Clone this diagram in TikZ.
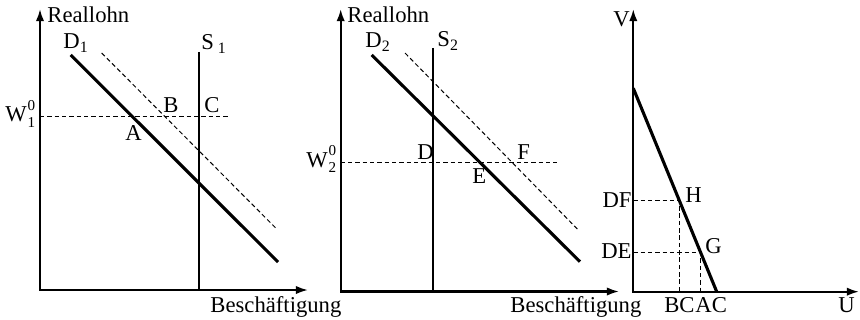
\documentclass[tikz,border=0pt]{standalone}
\usepackage{fontspec}
\setmainfont{Liberation Serif}
\usetikzlibrary{arrows.meta,calc}
\newcommand{\wlabel}[1]{W\kern0.3pt\raisebox{-2.6pt}{\fontsize{6.8}{7}\selectfont\shortstack[l]{0\\#1}}}
\begin{document}
\begin{tikzpicture}[x=0.45pt,y=-0.45pt,
  axis/.style={line width=0.95pt,{Latex[length=5.5pt,width=3.8pt]}-{Latex[length=5.5pt,width=3.8pt]}},
  curve/.style={line width=1.4pt},
  vline/.style={line width=1pt},
  guide/.style={line width=0.45pt,dash pattern=on 2pt off 1.3pt},
  lab/.style={inner sep=0pt,font=\fontsize{10.2}{12}\selectfont}]
\useasboundingbox (0,0) rectangle (860,320);

% ---------- panel 1 ----------
\coordinate (y1) at (40,9);
\coordinate (o1) at (40,290);
\coordinate (x1) at (308,290);
\draw[axis] (y1) -- (o1) -- (x1);
\coordinate (d1a) at (70.7,55);   \coordinate (d1b) at (278,262);
\coordinate (e1a) at (101.7,53);  \coordinate (e1b) at (276.7,229);
\coordinate (s1a) at (199.3,52);  \coordinate (s1b) at (199.3,290);
\coordinate (w1a) at (40,116.7);  \coordinate (w1b) at (228,116.7);
\draw[guide] (w1a) -- (w1b);
\draw[guide] (e1a) -- (e1b);
\draw[curve] (d1a) -- (d1b);
\draw[vline] (s1a) -- (s1b);
\node[lab,anchor=base west] (rl1) at (47,23) {Reallohn};
\node[lab,anchor=base west] (ld1) at (63,49) {D\textsubscript{1}};
\node[lab,anchor=base west] (ls1) at (201,50) {S\,\textsubscript{1}};
\node[lab,anchor=base west] (lw1) at (5,122) {\wlabel{1}};
\node[lab,anchor=base west] (lB) at (163,113) {B};
\node[lab,anchor=base west] (lC) at (204,113) {C};
\node[lab,anchor=base west] (lA) at (125,140) {A};
\node[lab,anchor=base west] (bs1) at (210,312) {Beschäftigung};

% ---------- panel 2 ----------
\coordinate (y2) at (340.7,9);
\coordinate (o2) at (340.7,291.5);
\coordinate (x2) at (619,291.5);
\draw[axis] (y2) -- (o2) -- (x2);
\coordinate (d2a) at (371.7,55);  \coordinate (d2b) at (580,261.7);
\coordinate (e2a) at (405,53);    \coordinate (e2b) at (577.3,229);
\coordinate (s2a) at (433.3,48);  \coordinate (s2b) at (433.3,291.5);
\coordinate (w2a) at (340.7,162.7); \coordinate (w2b) at (556.7,162.7);
\draw[guide] (w2a) -- (w2b);
\draw[guide] (e2a) -- (e2b);
\draw[curve] (d2a) -- (d2b);
\draw[vline] (s2a) -- (s2b);
\node[lab,anchor=base west] (rl2) at (347,23) {Reallohn};
\node[lab,anchor=base west] (ld2) at (365,48) {D\textsubscript{2}};
\node[lab,anchor=base west] (ls2) at (437,47) {S\textsubscript{2}};
\node[lab,anchor=base west] (lw2) at (306,167) {\wlabel{2}};
\node[lab,anchor=base west] (lD) at (417,159) {D};
\node[lab,anchor=base west] (lF) at (517,159) {F};
\node[lab,anchor=base west] (lE) at (472,183) {E};
\node[lab,anchor=base west] (bs2) at (510,312) {Beschäftigung};

% ---------- panel 3 ----------
\coordinate (y3) at (633.3,9);
\coordinate (o3) at (633.3,291.7);
\coordinate (x3) at (859,291.7);
\draw[axis] (y3) -- (o3) -- (x3);
\coordinate (ta) at (633.3,88.3);
\coordinate (tb) at (716.7,291.7);
\coordinate (H) at ($(ta)!0.554!(tb)$);
\coordinate (G) at ($(ta)!0.806!(tb)$);
\draw[guide] (o3 |- H) -- (H) -- (H |- o3);
\draw[guide] (o3 |- G) -- (G) -- (G |- o3);
\draw[curve] (ta) -- (tb);
\node[lab,anchor=base west] (lV) at (613,27) {V};
\node[lab,anchor=base east] (lDF) at (632,207) {DF};
\node[lab,anchor=base east] (lDE) at (632,258) {DE};
\node[lab,anchor=base west] (lH) at (685,202) {H};
\node[lab,anchor=base west] (lG) at (705,253) {G};
\node[lab,anchor=base east] (lBC) at (695,312) {BC};
\node[lab,anchor=base west] (lAC) at (695,312) {AC};
\node[lab,anchor=base west] (lU) at (838,312) {U};
\end{tikzpicture}
\end{document}
